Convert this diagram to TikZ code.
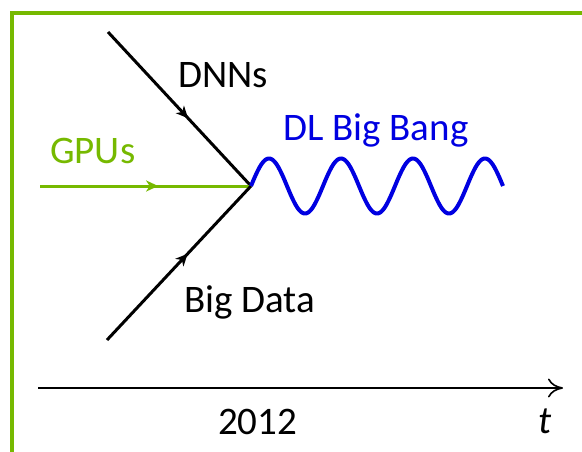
\documentclass[tikz,border=0pt]{standalone}
\usepackage{fontspec}
\setmainfont{Carlito}
\usetikzlibrary{arrows.meta,decorations.markings}
\definecolor{nvgreen}{RGB}{118,185,0}
\definecolor{bangblue}{RGB}{0,0,225}
\begin{document}
\begin{tikzpicture}[x=1pt,y=-1pt,
  lbl/.style={font=\fontsize{39}{42}\selectfont, inner sep=0pt, anchor=base west},
  midarrow/.style={decoration={markings, mark=at position #1 with {\arrow{Stealth[length=12pt,width=11pt,inset=3.5pt]}}}, postaction={decorate}},
  ray/.style={line width=3pt},
  frame/.style={nvgreen, line width=4pt},
  axis/.style={line width=1.6pt, -{To[length=15pt,width=19pt,line width=1.6pt]}}]
\useasboundingbox (0,0) rectangle (582,451);
% frame
\coordinate (fb) at (12,460);
\coordinate (fc) at (12,13);
\coordinate (fr) at (590,13);
\draw[frame] (fb) -- (fc) -- (fr);
% rays
\coordinate (O) at (251,186);
\coordinate (dA) at (108,32);
\coordinate (gA) at (40,186);
\coordinate (bA) at (107,340);
\draw[ray, midarrow=0.56] (dA) -- (O);
\draw[ray, nvgreen, midarrow=0.56] (gA) -- (O);
\draw[ray, midarrow=0.56] (bA) -- (O);
% wave
\draw[bangblue, line width=4pt, shift={(O)}] plot[domain=0:252, samples=250, smooth] ({\x}, {-27.5*sin(\x*5)});
% labels
\node[lbl] (dnn) at (178,87) {DNNs};
\node[lbl, text=nvgreen] (gpu) at (50,163) {GPUs};
\node[lbl, text=bangblue] (bang) at (283,140) {DL Big Bang};
\node[lbl] (data) at (184,312) {Big Data};
% axis
\coordinate (ax0) at (38,388);
\coordinate (ax1) at (563,388);
\draw[axis] (ax0) -- (ax1);
\node[lbl] (yr) at (218,434) {2012};
\node[lbl, font=\fontsize{39}{42}\selectfont\itshape] (tt) at (538,433) {t};
\end{tikzpicture}
\end{document}
